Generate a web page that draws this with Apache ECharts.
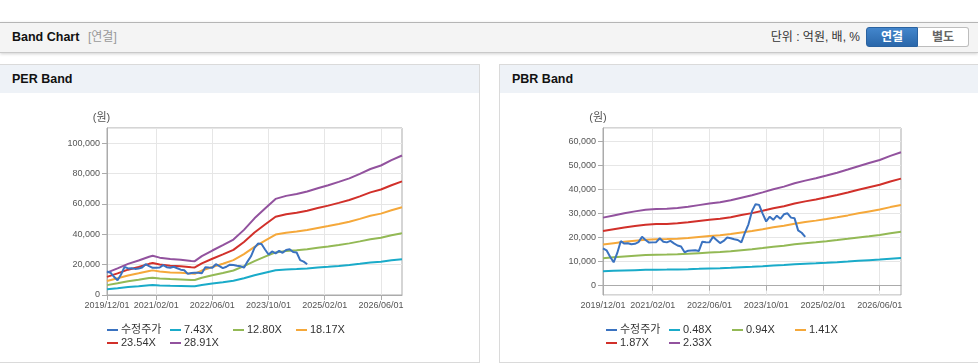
<!DOCTYPE html>
<html><head><meta charset="utf-8">
<script src="https://cdn.jsdelivr.net/npm/echarts@6/dist/echarts.min.js"></script>
<style>
html,body{margin:0;padding:0;width:978px;height:364px;overflow:hidden;background:#fff;font-family:'Liberation Sans','Noto Sans CJK KR',sans-serif;}
#topbar{position:absolute;left:0;top:22px;width:978px;height:29px;background:#f4f4f4;border-top:1px solid #b5b5b5;border-bottom:1px solid #c9c9c9;box-shadow:0 1px 3px rgba(0,0,0,0.18);}
#title{position:absolute;left:12px;top:0;line-height:29px;font-size:12.5px;font-weight:bold;color:#111;}
#sub{position:absolute;left:88px;top:0;line-height:29px;font-size:12px;color:#999;}
#unit{position:absolute;right:118px;top:0;line-height:29px;font-size:12px;color:#333;}
.btn{position:absolute;top:5px;height:18px;line-height:18px;width:50px;text-align:center;font-size:12px;font-weight:bold;box-sizing:content-box;}
#b1{left:866px;background:linear-gradient(#4386cc,#2a67aa);color:#fff;border:1px solid #2a62a0;border-radius:3px 0 0 3px;}
#b2{left:918px;background:#fff;color:#666;border:1px solid #bdbdbd;border-left:none;border-radius:0 3px 3px 0;}
.panel{position:absolute;top:64px;width:479px;height:297px;border:1px solid #dadada;background:#fff;}
.phead{position:absolute;left:0;top:0;width:100%;height:28px;background:#eef2f7;}
.ptitle{position:absolute;left:12px;top:0;line-height:28px;font-size:12.5px;font-weight:bold;color:#111;}
.chart{position:absolute;top:0;width:479px;height:364px;}
</style></head>
<body>
<div id="topbar"><span id="title">Band Chart</span><span id="sub">[연결]</span><span id="unit">단위 : 억원, 배, %</span></div>
<div class="btn" id="b1" style="top:27px">연결</div>
<div class="btn" id="b2" style="top:27px">별도</div>
<div class="panel" style="left:-1px"><div class="phead"><span class="ptitle">PER Band</span></div></div>
<div class="panel" style="left:499px"><div class="phead"><span class="ptitle">PBR Band</span></div></div>
<div class="chart" id="per" style="left:0"></div>
<div class="chart" id="pbr" style="left:499px"></div>
<script>
// ---------- data ----------
const startYear = 2019, startMonth = 12, monthCount = 85; // 2019/12 .. 2026/12
const xTickLabels = ['2019/12/01','2021/02/01','2022/06/01','2023/10/01','2025/02/01','2026/06/01'];
const legendNames = ['수정주가'];
const perNames = ['7.43X','12.80X','18.17X','23.54X','28.91X'];
const pbrNames = ['0.48X','0.94X','1.41X','1.87X','2.33X'];

// adjusted stock price, monthly from 2019/12 to 2024/09
const adjPrice = [15500,14700,12000,9700,13500,18500,17500,17600,17200,17400,
  18100,20300,19000,17900,18000,18100,19700,18300,18000,18600,
  17600,16700,16300,13900,14500,14600,14700,14400,18300,18100,
  18000,20300,19000,17700,18600,20000,19700,19300,19000,18000,
  22000,25500,31000,33900,33600,30000,26700,28700,27400,29100,
  27800,29700,30100,28300,28000,23000,22000,20300];

// PER band values at month indices
const perBandIdx = [0,3,6,9,12,13,15,18,21,24,25,27,30,33,36,39,42,45,48,51,54,57,60,63,66,69,72,75,78,81,84];
const per743  = [3780,4500,5270,5830,6480,6630,6320,6090,5960,5760,5730,6580,7530,8430,9380,11030,12980,14650,16270,16780,17090,17530,18070,18580,19150,19740,20510,21330,21920,22820,23620];
const per1280 = [6510,7750,9080,10050,11160,11420,10890,10490,10270,9920,9870,11330,12970,14520,16160,19000,22360,25240,28030,28910,29450,30200,31130,32010,32990,34010,35330,36750,37770,39320,40690];
const per1817 = [9240,11000,12880,14270,15840,16220,15460,14900,14580,14080,14020,16090,18420,20610,22940,26960,31740,35820,39780,41040,41800,42860,44180,45440,46820,48270,50150,52170,53610,55810,57760];
const per2354 = [11970,14250,16690,18480,20520,21010,20030,19300,18890,18240,18160,20850,23860,26710,29720,34930,41120,46420,51550,53170,54150,55540,57250,58870,60670,62540,64980,67590,69460,72310,74830];
const per2891 = [14700,17500,20500,22700,25200,25800,24600,23700,23200,22400,22300,25600,29300,32800,36500,42900,50500,57000,63300,65300,66500,68200,70300,72300,74500,76800,79800,83000,85300,88800,91900];

// PBR band values at month indices
const pbrBandIdx = [0,3,6,9,12,15,18,21,24,27,30,33,36,39,42,45,48,51,54,57,60,63,66,69,72,75,78,81,84];
const pbr048 = [6000,6150,6300,6450,6600,6650,6680,6730,6850,6990,7140,7240,7400,7630,7850,8090,8360,8590,8880,9100,9310,9530,9780,10050,10340,10610,10870,11220,11530];
const pbr094 = [11420,11780,12140,12470,12750,12870,12910,13030,13230,13510,13800,14000,14320,14760,15170,15650,16180,16620,17190,17630,18030,18480,18960,19480,20050,20570,21100,21780,22390];
const pbr141 = [17130,17670,18220,18700,19120,19310,19370,19550,19850,20270,20700,21000,21480,22150,22760,23480,24270,24930,25780,26450,27050,27720,28440,29230,30080,30870,31650,32680,33590];
const pbr187 = [22710,23440,24160,24800,25360,25600,25680,25920,26330,26890,27450,27850,28490,29380,30180,31140,32180,33070,34190,35070,35880,36760,37720,38770,39890,40930,41980,43340,44540];
const pbr233 = [28300,29200,30100,30900,31600,31900,32000,32300,32800,33500,34200,34700,35500,36600,37600,38800,40100,41200,42600,43700,44700,45800,47000,48300,49700,51000,52300,54000,55500];

// ---------- build ----------
const categories = [];
for (let k = 0; k < monthCount; k++) {
  const m0 = startMonth - 1 + k;
  const y = startYear + Math.floor(m0 / 12), m = m0 % 12 + 1;
  categories.push(y + '/' + String(m).padStart(2, '0') + '/01');
}
function sparse(idx, vals) {
  const arr = new Array(monthCount).fill(null);
  idx.forEach((k, j) => { arr[k] = vals[j]; });
  return arr;
}
function full(vals) {
  const arr = new Array(monthCount).fill(null);
  vals.forEach((v, j) => { arr[j] = v; });
  return arr;
}
const showTick = (idx) => xTickLabels.indexOf(categories[idx]) >= 0;
const FONT = "'Liberation Sans','Noto Sans CJK KR',sans-serif";
const colors = ['#3a72c0','#1aabc9','#93b955','#f5a83a','#d1302a','#92529e'];

function makeOption(cfg) {
  const names = legendNames.concat(cfg.names);
  const series = [];
  cfg.bands.forEach((vals, j) => {
    series.push({name: cfg.names[j], type: 'line', data: sparse(cfg.idx, vals), connectNulls: true,
      symbol: 'none', lineStyle: {width: 2, color: colors[j + 1]}, itemStyle: {color: colors[j + 1]}, z: 2});
  });
  series.push({name: legendNames[0], type: 'line', data: full(adjPrice), symbol: 'none',
    lineStyle: {width: 2, color: colors[0]}, itemStyle: {color: colors[0]}, z: 3});
  return {
    animation: false,
    textStyle: {fontFamily: FONT},
    grid: {left: cfg.left, top: 128, width: cfg.width, height: 167, show: true,
      borderColor: '#ababab', borderWidth: 1, outerBoundsMode: 'none', containLabel: false},
    xAxis: {type: 'category', data: categories, boundaryGap: false,
      axisLine: {lineStyle: {color: '#ababab'}},
      axisTick: {show: true, interval: showTick, length: 5, lineStyle: {color: '#ababab'}},
      axisLabel: {interval: showTick, margin: 6, fontSize: 9, color: '#555', fontFamily: FONT},
      splitLine: {show: true, interval: showTick, lineStyle: {color: '#e6e6e6'}}},
    yAxis: Object.assign({type: 'value', min: cfg.min, max: cfg.max,
      axisLine: {show: true, lineStyle: {color: '#ababab'}},
      axisTick: {show: true, length: 5, lineStyle: {color: '#ababab'}},
      axisLabel: {fontSize: 9, color: '#555', margin: 7, fontFamily: FONT, showMinLabel: cfg.showMin, showMaxLabel: false},
      splitLine: {show: true, lineStyle: {color: '#e6e6e6'}}}, cfg.yExtra),
    legend: {data: names, left: 107, top: 323.5, width: 262, padding: 0, itemGap: 0,
      itemWidth: 11, itemHeight: 2, icon: 'rect', selectedMode: false,
      textStyle: {fontSize: 11, color: '#333', width: 49, lineHeight: 13, fontFamily: FONT, padding: [0, 0, 0, -2]}},
    graphic: [{type: 'text', x: cfg.unitX, y: 117.5,
      style: {text: '(원)', fontSize: 11, fill: '#555', textAlign: 'center', textVerticalAlign: 'middle', fontFamily: FONT}}],
    series: series
  };
}

const perChart = echarts.init(document.getElementById('per'));
perChart.setOption(makeOption({names: perNames, idx: perBandIdx,
  bands: [per743, per1280, per1817, per2354, per2891],
  left: 107, width: 295, min: 0, max: 110000, showMin: true, unitX: 101.5,
  yExtra: {interval: 20000}}));

const pbrChart = echarts.init(document.getElementById('pbr'));
pbrChart.setOption(makeOption({names: pbrNames, idx: pbrBandIdx,
  bands: [pbr048, pbr094, pbr141, pbr187, pbr233],
  left: 104, width: 298, min: -3900, max: 65600, showMin: false, unitX: 99,
  yExtra: {splitNumber: 7}}));
</script>
</body></html>
